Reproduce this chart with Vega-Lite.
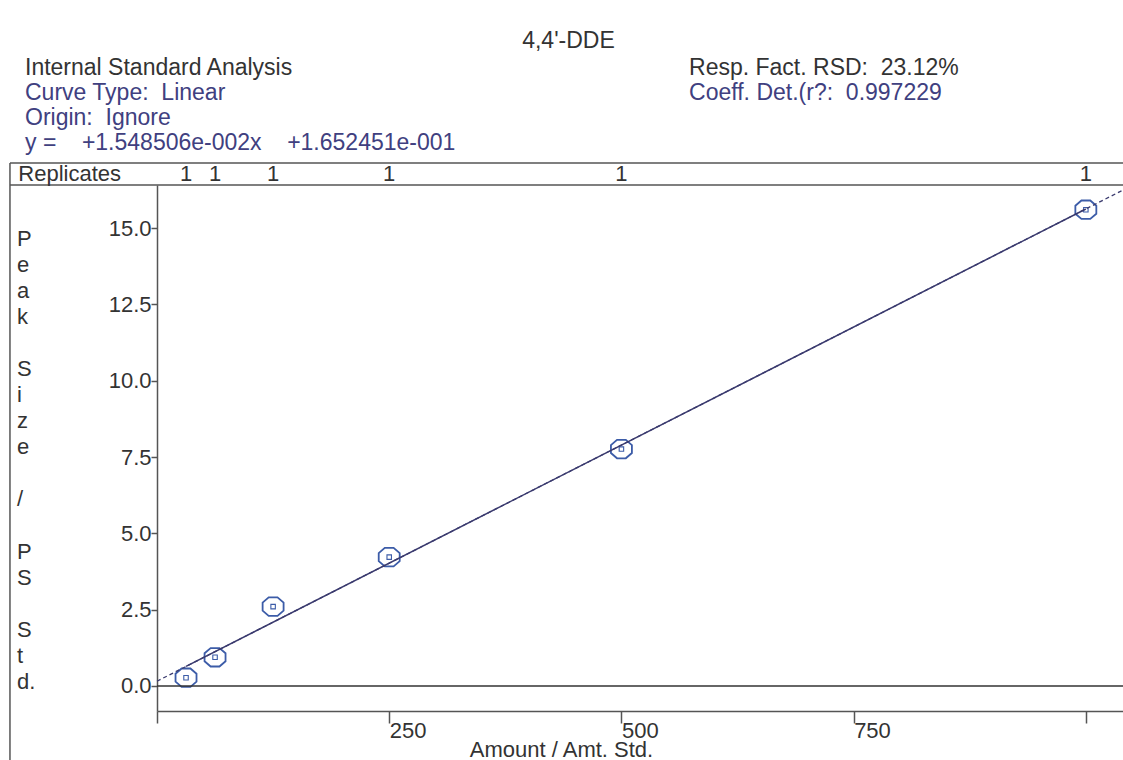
{
  "$schema": "https://vega.github.io/schema/vega-lite/v6.json",
  "width": 966,
  "height": 526,
  "autosize": "none",
  "padding": {"left": 157, "top": 185, "right": 0, "bottom": 49},
  "background": "white",
  "config": {
    "view": {"stroke": null},
    "font": "Liberation Sans",
    "axis": {
      "domainColor": "#555555",
      "domainWidth": 1.5,
      "tickColor": "#555555",
      "tickWidth": 1.5,
      "labelColor": "#333333",
      "labelFont": "Liberation Sans",
      "labelFontSize": 22,
      "titleFont": "Liberation Sans",
      "titleFontSize": 22,
      "titleColor": "#333333",
      "titleFontWeight": "normal",
      "grid": false
    }
  },
  "data": {
    "values": [
      {"amount": 31.25, "response": 0.27, "replicates": 1},
      {"amount": 62.5, "response": 0.94, "replicates": 1},
      {"amount": 125, "response": 2.6, "replicates": 1},
      {"amount": 250, "response": 4.22, "replicates": 1},
      {"amount": 500, "response": 7.76, "replicates": 1},
      {"amount": 1000, "response": 15.6, "replicates": 1}
    ]
  },
  "layer": [
    {
      "mark": {
        "type": "point",
        "shape": "M -0.42 -0.88 L 0.42 -0.88 L 1 -0.38 L 1 0.38 L 0.42 0.88 L -0.42 0.88 L -1 0.38 L -1 -0.38 Z",
        "size": 440,
        "filled": false,
        "color": "#3c5ca8",
        "strokeWidth": 1.8,
        "opacity": 1
      },
      "encoding": {
        "x": {
          "field": "amount",
          "type": "quantitative",
          "scale": {"domain": [0, 1040], "nice": false, "zero": false},
          "axis": {
            "values": [0, 250, 500, 750, 1000],
            "labelExpr": "datum.value == 0 || datum.value == 1000 ? '' : datum.label",
            "tickSize": 12,
            "labelAlign": "left",
            "labelDx": 4,
            "labelBaseline": "alphabetic",
            "labelPadding": 14,
            "labelFlush": false,
            "labelOverlap": false,
            "title": "Amount / Amt. Std.",
            "titleX": 404,
            "titleY": 45,
            "titleAlign": "center",
            "titleBaseline": "alphabetic",
            "titleAngle": 0
          }
        },
        "y": {
          "field": "response",
          "type": "quantitative",
          "scale": {"domain": [-0.82, 16.41], "nice": false, "zero": false},
          "axis": {
            "values": [0, 2.5, 5, 7.5, 10, 12.5, 15],
            "format": ".1f",
            "tickSize": 6,
            "labelPadding": 0,
            "labelBaseline": "middle",
            "labelOverlap": false,
            "labelFlush": false,
            "title": null
          }
        }
      }
    },
    {
      "mark": {"type": "point", "shape": "square", "size": 20, "filled": false, "color": "#3c5ca8", "strokeWidth": 1.1, "opacity": 1},
      "encoding": {
        "x": {"field": "amount", "type": "quantitative"},
        "y": {"field": "response", "type": "quantitative"}
      }
    },
    {
      "data": {"values": [{}]},
      "mark": {"type": "rule", "color": "#555555", "strokeWidth": 1.5},
      "encoding": {
        "x": {"datum": -158.3, "type": "quantitative"},
        "x2": {"datum": 1040},
        "y": {"datum": 17.13, "type": "quantitative"}
      }
    },
    {
      "data": {"values": [{}]},
      "mark": {"type": "rule", "color": "#555555", "strokeWidth": 1.5},
      "encoding": {
        "x": {"datum": -158.3, "type": "quantitative"},
        "x2": {"datum": 1040},
        "y": {"datum": 16.41, "type": "quantitative"}
      }
    },
    {
      "data": {"values": [{}]},
      "mark": {"type": "rule", "color": "#555555", "strokeWidth": 1.5},
      "encoding": {
        "x": {"datum": -158.3, "type": "quantitative"},
        "y": {"datum": 17.13, "type": "quantitative"},
        "y2": {"datum": -2.45}
      }
    },
    {
      "data": {"values": [{}]},
      "mark": {"type": "rule", "color": "#333333", "strokeWidth": 1.5},
      "encoding": {
        "x": {"datum": 0, "type": "quantitative"},
        "x2": {"datum": 1040},
        "y": {"datum": 0, "type": "quantitative"}
      }
    },
    {
      "transform": [{"regression": "response", "on": "amount", "extent": [0, 1040]}],
      "mark": {"type": "line", "color": "#3a3a6e", "strokeWidth": 1.3, "strokeDash": [4, 3]},
      "encoding": {
        "x": {"field": "amount", "type": "quantitative"},
        "y": {"field": "response", "type": "quantitative"}
      }
    },
    {
      "transform": [{"regression": "response", "on": "amount", "extent": [31.25, 1000]}],
      "mark": {"type": "line", "color": "#3a3a6e", "strokeWidth": 1.5},
      "encoding": {
        "x": {"field": "amount", "type": "quantitative"},
        "y": {"field": "response", "type": "quantitative"}
      }
    },
    {
      "mark": {"type": "text", "font": "Liberation Sans", "fontSize": 22, "color": "#333333", "align": "center", "baseline": "alphabetic"},
      "encoding": {
        "x": {"field": "amount", "type": "quantitative"},
        "y": {"datum": 16.525, "type": "quantitative"},
        "text": {"field": "replicates"}
      }
    },
    {
      "data": {"values": [{"label": ["P", "e", "a", "k"]}]},
      "mark": {"type": "text", "font": "Liberation Sans", "fontSize": 22, "color": "#333333", "align": "left", "baseline": "alphabetic", "lineHeight": 26.1},
      "encoding": {
        "x": {"datum": -150.7, "type": "quantitative"},
        "y": {"datum": 14.428, "type": "quantitative"},
        "text": {"field": "label"}
      }
    },
    {
      "data": {"values": [{"label": ["S", "i", "z", "e"]}]},
      "mark": {"type": "text", "font": "Liberation Sans", "fontSize": 22, "color": "#333333", "align": "left", "baseline": "alphabetic", "lineHeight": 26.1},
      "encoding": {
        "x": {"datum": -150.7, "type": "quantitative"},
        "y": {"datum": 10.153, "type": "quantitative"},
        "text": {"field": "label"}
      }
    },
    {
      "data": {"values": [{"label": "/"}]},
      "mark": {"type": "text", "font": "Liberation Sans", "fontSize": 22, "color": "#333333", "align": "left", "baseline": "alphabetic"},
      "encoding": {
        "x": {"datum": -150.7, "type": "quantitative"},
        "y": {"datum": 5.879, "type": "quantitative"},
        "text": {"field": "label"}
      }
    },
    {
      "data": {"values": [{"label": ["P", "S"]}]},
      "mark": {"type": "text", "font": "Liberation Sans", "fontSize": 22, "color": "#333333", "align": "left", "baseline": "alphabetic", "lineHeight": 26.1},
      "encoding": {
        "x": {"datum": -150.7, "type": "quantitative"},
        "y": {"datum": 4.169, "type": "quantitative"},
        "text": {"field": "label"}
      }
    },
    {
      "data": {"values": [{"label": ["S", "t", "d."]}]},
      "mark": {"type": "text", "font": "Liberation Sans", "fontSize": 22, "color": "#333333", "align": "left", "baseline": "alphabetic", "lineHeight": 26.1},
      "encoding": {
        "x": {"datum": -150.7, "type": "quantitative"},
        "y": {"datum": 1.604, "type": "quantitative"},
        "text": {"field": "label"}
      }
    },
    {
      "data": {"values": [{"label": "4,4'-DDE"}]},
      "mark": {"type": "text", "font": "Liberation Sans", "fontSize": 23, "color": "#333333", "align": "center", "baseline": "alphabetic"},
      "encoding": {
        "x": {"datum": 443, "type": "quantitative"},
        "y": {"datum": 20.898, "type": "quantitative"},
        "text": {"field": "label"}
      }
    },
    {
      "data": {"values": [{"label": "Internal Standard Analysis"}]},
      "mark": {"type": "text", "font": "Liberation Sans", "fontSize": 23, "color": "#333333", "align": "left", "baseline": "alphabetic"},
      "encoding": {
        "x": {"datum": -142.1, "type": "quantitative"},
        "y": {"datum": 20.0, "type": "quantitative"},
        "text": {"field": "label"}
      }
    },
    {
      "data": {"values": [{"label": ["Curve Type:\u00a0\u00a0Linear", "Origin:\u00a0\u00a0Ignore", "y =\u00a0\u00a0\u00a0\u00a0+1.548506e-002x\u00a0\u00a0\u00a0\u00a0+1.652451e-001"]}]},
      "mark": {"type": "text", "font": "Liberation Sans", "fontSize": 23, "color": "#404080", "align": "left", "baseline": "alphabetic", "lineHeight": 25},
      "encoding": {
        "x": {"datum": -142.1, "type": "quantitative"},
        "y": {"datum": 19.194, "type": "quantitative"},
        "text": {"field": "label"}
      }
    },
    {
      "data": {"values": [{"label": "Resp. Fact. RSD:\u00a0\u00a023.12%"}]},
      "mark": {"type": "text", "font": "Liberation Sans", "fontSize": 23, "color": "#333333", "align": "left", "baseline": "alphabetic"},
      "encoding": {
        "x": {"datum": 572.8, "type": "quantitative"},
        "y": {"datum": 20.0, "type": "quantitative"},
        "text": {"field": "label"}
      }
    },
    {
      "data": {"values": [{"label": "Coeff. Det.(r?:\u00a0\u00a00.997229"}]},
      "mark": {"type": "text", "font": "Liberation Sans", "fontSize": 23, "color": "#404080", "align": "left", "baseline": "alphabetic"},
      "encoding": {
        "x": {"datum": 572.8, "type": "quantitative"},
        "y": {"datum": 19.194, "type": "quantitative"},
        "text": {"field": "label"}
      }
    },
    {
      "data": {"values": [{"label": "Replicates"}]},
      "mark": {"type": "text", "font": "Liberation Sans", "fontSize": 22, "color": "#333333", "align": "left", "baseline": "alphabetic"},
      "encoding": {
        "x": {"datum": -149.3, "type": "quantitative"},
        "y": {"datum": 16.525, "type": "quantitative"},
        "text": {"field": "label"}
      }
    }
  ]
}
